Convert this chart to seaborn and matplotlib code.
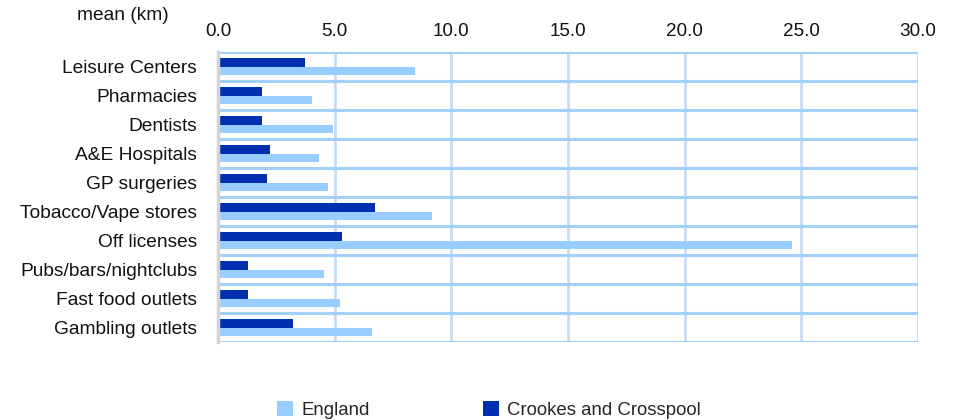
import numpy as np
import pandas as pd
import matplotlib
matplotlib.use("Agg")
import matplotlib.pyplot as plt
from matplotlib.patches import Patch
import seaborn as sns

categories = ["Leisure Centers", "Pharmacies", "Dentists", "A&E Hospitals", "GP surgeries",
              "Tobacco/Vape stores", "Off licenses", "Pubs/bars/nightclubs",
              "Fast food outlets", "Gambling outlets"]
england = [8.44, 4.03, 4.93, 4.33, 4.71, 9.17, 24.6, 4.54, 5.23, 6.6]
crookes = [3.73, 1.89, 1.89, 2.23, 2.1, 6.73, 5.31, 1.29, 1.29, 3.21]
series_names = ["England", "Crookes and Crosspool"]
x_ticks = [0, 5, 10, 15, 20, 25, 30]
x_ticklabels = ["0.0", "5.0", "10.0", "15.0", "20.0", "25.0", "30.0"]

light = "#99ccff"
dark = "#0030b0"

df = pd.DataFrame({
    "category": categories * 2,
    "value": crookes + england,
    "series": [series_names[1]] * len(categories) + [series_names[0]] * len(categories),
})

sns.set_theme(style="white")
plt.rcParams["font.family"] = ["Liberation Sans", "DejaVu Sans"]

fig = plt.figure(figsize=(9.55, 4.2), dpi=100)
ax = fig.add_axes([218 / 955, 1 - 342 / 420, 700 / 955, 290 / 420])

sns.barplot(data=df, y="category", x="value", hue="series", orient="h",
            hue_order=[series_names[1], series_names[0]],
            palette=[dark, light], width=0.56, dodge=True,
            saturation=1, ax=ax, legend=False, zorder=3,
            linewidth=0, edgecolor="none")

ax.set_xlim(0, 30)
ax.set_ylim(len(categories) - 0.5, -0.5)
ax.set_xticks(x_ticks)
ax.set_xticklabels(x_ticklabels)
ax.xaxis.tick_top()
ax.set_xlabel("")
ax.set_ylabel("")
ax.set_yticks(range(len(categories)))
ax.set_yticklabels(categories)
ax.set_yticks(np.arange(-0.5, len(categories), 1), minor=True)
ax.tick_params(axis="x", which="both", length=0, labelsize=13.6, pad=9, colors="#111111")
ax.tick_params(axis="y", which="both", length=0, labelsize=13.8, pad=15, colors="#111111")
for lbl in ax.get_yticklabels():
    lbl.set_y(lbl.get_position()[1])

ax.grid(False)
ax.grid(which="major", axis="x", color="#c6dcf4", linewidth=2, zorder=1)
ax.grid(which="minor", axis="y", color="#a3cffb", linewidth=2.2, zorder=2)
ax.set_axisbelow(True)

for side in ["top", "bottom", "right"]:
    ax.spines[side].set_visible(False)
ax.spines["left"].set_color("#d4d4d4")
ax.spines["left"].set_linewidth(2.5)
ax.spines["left"].set_zorder(4)

fig.text(169 / 955, 1 - 15 / 420, "mean (km)", ha="right", va="center", fontsize=13.8, color="#111111")

handles = [Patch(facecolor=light, edgecolor="none", label=series_names[0]),
           Patch(facecolor=dark, edgecolor="none", label=series_names[1])]
fig.legend(handles=handles, loc="center left", bbox_to_anchor=(277 / 955, 10 / 420),
           ncol=2, frameon=False, fontsize=13.4, handlelength=0.85, handleheight=0.85,
           handletextpad=0.45, columnspacing=6.1, borderpad=0, borderaxespad=0)

fig.savefig("out.png", dpi=100)
